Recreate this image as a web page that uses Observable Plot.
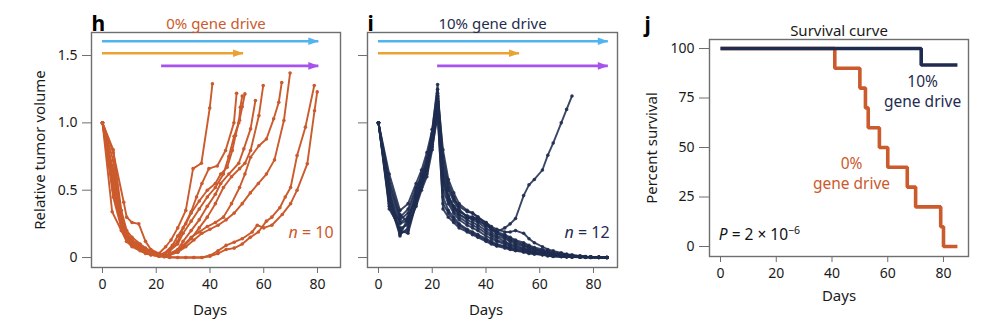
<!DOCTYPE html>
<html><head><meta charset="utf-8">
<script src="https://cdn.jsdelivr.net/npm/d3@7"></script>
<script src="https://cdn.jsdelivr.net/npm/@observablehq/plot@0.6"></script>
<style>
body{margin:0;background:#fff;}
#root{position:relative;width:1000px;height:335px;overflow:hidden;font-family:"Noto Sans",sans-serif;}
#root svg{position:absolute;top:0;}
</style></head><body><div id="root"></div>
<script>
const ORANGE = "#cb5a2c", NAVY = "#1f2c50";

// ---- Panel h: 0% gene drive (per-mouse days and relative tumor volume) ----
const hDays = [
  [0,4,7,9,11,14,16,18,21,23.5,25.5,28,31,33.7,36.8,39.9,40.9],
  [0,4,7,9,11,14,16,18,21,23,25,28,30,33,35,37,39.6,42.7,45.8,48.9,49.9],
  [0,4,7,9,11,14,16,18,21,23,26,28,31,33,36,39,42,44,46.4,48.3,49.5,50.7,51.3,52],
  [0,4,7,9,11,14,16,18,21,23,25,28,30,33,36,39,42,45,47,49,51,52,53],
  [0,4,7,9,11,14,16,18,21,23,25,28,30,33,36,39,42,44,47,50.7,52.6,55.1,56.9],
  [0,4,7.9,9,11,13.5,16,18,21,23,25,28,30,33,36,39,42,45,48,51,53,55.1,58.2,59.8],
  [0,4,7,9,11,14,16,18,21,23,25,28,30,33,36,39,42,45,48,51,53,55.1,58.2,61,63.7,65.6,66.7],
  [0,4,7,9,11,14,16,18,21,23,25,28,31,34,37,40,43,46,49,52,55,58,61,64,67.5,69.8],
  [0,3.6,7,9,11,14,16,18,21,23,25,28,31,34,37,40,43,46,49,52,55,58,61,63,66,68,70,72.4,75.5,78.8],
  [0,4,7,9,11,14,16,18,21,23,25,28,31,34,37,40,43,46,49,52,55.7,57.6,60,63,66.9,70,72.4,76.2,78.9,79.9]
];
const hVols = [
  [1.0,0.80,0.35,0.20,0.15,0.10,0.07,0.05,0.03,0.08,0.13,0.22,0.35,0.66,0.70,1.11,1.29],
  [1.0,0.72,0.30,0.18,0.12,0.07,0.05,0.04,0.02,0.03,0.06,0.12,0.22,0.34,0.45,0.55,0.66,0.68,0.795,1.0,1.22],
  [1.0,0.65,0.28,0.15,0.10,0.06,0.04,0.03,0.02,0.03,0.09,0.16,0.25,0.33,0.42,0.50,0.55,0.62,0.67,0.795,0.906,1.0,1.116,1.20],
  [1.0,0.55,0.25,0.16,0.12,0.08,0.05,0.03,0.01,0.02,0.05,0.10,0.18,0.27,0.36,0.45,0.52,0.62,0.75,0.90,1.02,1.12,1.215],
  [1.0,0.45,0.22,0.12,0.09,0.06,0.04,0.02,0.01,0.01,0.03,0.06,0.12,0.20,0.28,0.38,0.47,0.55,0.62,0.70,0.807,0.955,1.166],
  [1.0,0.78,0.41,0.30,0.26,0.25,0.12,0.06,0.03,0.02,0.02,0.04,0.08,0.14,0.22,0.30,0.40,0.52,0.60,0.66,0.70,0.795,1.054,1.277],
  [1.0,0.60,0.30,0.17,0.13,0.09,0.06,0.04,0.02,0.01,0.02,0.05,0.09,0.15,0.19,0.23,0.26,0.30,0.40,0.52,0.62,0.745,0.83,0.88,1.03,1.153,1.30],
  [1.0,0.50,0.24,0.14,0.10,0.07,0.05,0.03,0.02,0.01,0.02,0.04,0.08,0.13,0.18,0.21,0.24,0.28,0.33,0.40,0.48,0.55,0.62,0.725,1.017,1.37],
  [1.0,0.34,0.20,0.12,0.08,0.05,0.03,0.02,0.01,0.005,0,0,0,0,0,0.01,0.03,0.06,0.07,0.10,0.15,0.19,0.27,0.30,0.37,0.45,0.52,0.757,0.968,1.277],
  [1.0,0.50,0.28,0.18,0.12,0.08,0.05,0.04,0.02,0.01,0.005,0,0,0,0,0.015,0.05,0.09,0.114,0.14,0.19,0.24,0.22,0.24,0.32,0.40,0.50,0.696,1.09,1.23]
];

// ---- Panel i: 10% gene drive (shared measurement days) ----
const iDays = [0,4,8,11,14,16,18,20,22,24,26,28,30,33,35,37,40,42,44,47,49,51,54,56,58,61,63,65,68,70,72,75,77,79,82,85];
const iVols = [
  [1.0,0.42,0.16,0.30,0.45,0.55,0.70,0.95,1.285,0.60,0.45,0.38,0.32,0.28,0.26,0.24,0.20,0.17,0.15,0.12,0.10,0.09,0.07,0.06,0.05,0.04,0.03,0.025,0.02,0.015,0.01,0.008,0.005,0.003,0.002,0.0],
  [1.0,0.38,0.20,0.18,0.40,0.52,0.62,0.85,1.20,0.50,0.40,0.33,0.28,0.24,0.22,0.20,0.16,0.14,0.12,0.10,0.08,0.07,0.06,0.05,0.04,0.03,0.02,0.015,0.01,0.008,0.006,0.004,0.003,0.002,0.001,0.0],
  [1.0,0.55,0.30,0.36,0.52,0.60,0.72,0.90,1.15,0.70,0.52,0.44,0.38,0.34,0.33,0.30,0.26,0.22,0.19,0.17,0.15,0.13,0.11,0.09,0.075,0.06,0.05,0.04,0.03,0.02,0.015,0.01,0.006,0.004,0.002,0.0],
  [1.0,0.48,0.25,0.28,0.46,0.58,0.68,0.88,1.22,0.62,0.46,0.38,0.34,0.31,0.30,0.29,0.26,0.23,0.21,0.19,0.19,0.20,0.18,0.14,0.11,0.08,0.06,0.05,0.035,0.025,0.02,0.012,0.008,0.005,0.003,0.0],
  [1.0,0.36,0.22,0.24,0.38,0.50,0.60,0.80,1.10,0.45,0.35,0.30,0.25,0.21,0.19,0.17,0.14,0.12,0.10,0.085,0.07,0.06,0.05,0.04,0.03,0.025,0.02,0.012,0.008,0.006,0.004,0.003,0.002,0.001,0.0,0.0],
  [1.0,0.62,0.35,0.40,0.55,0.65,0.78,0.95,1.25,0.75,0.55,0.45,0.36,0.30,0.28,0.26,0.22,0.19,0.16,0.14,0.12,0.10,0.085,0.07,0.06,0.045,0.035,0.025,0.02,0.015,0.01,0.008,0.005,0.003,0.002,0.0],
  [1.0,0.45,0.18,0.20,0.42,0.56,0.66,0.82,1.05,0.40,0.33,0.28,0.24,0.20,0.18,0.16,0.13,0.11,0.09,0.08,0.065,0.055,0.045,0.035,0.03,0.02,0.015,0.01,0.008,0.005,0.004,0.003,0.002,0.001,0.0,0.0],
  [1.0,0.52,0.28,0.33,0.50,0.62,0.74,0.92,1.18,0.66,0.50,0.42,0.35,0.30,0.29,0.28,0.24,0.21,0.18,0.16,0.14,0.12,0.10,0.08,0.065,0.05,0.04,0.03,0.025,0.018,0.012,0.008,0.005,0.003,0.002,0.0],
  [1.0,0.40,0.26,0.30,0.44,0.54,0.64,0.86,1.12,0.55,0.42,0.35,0.30,0.26,0.24,0.22,0.18,0.16,0.13,0.11,0.09,0.08,0.065,0.05,0.04,0.032,0.025,0.018,0.012,0.008,0.006,0.004,0.003,0.002,0.001,0.0],
  [1.0,0.58,0.32,0.26,0.48,0.60,0.70,0.90,1.20,0.80,0.58,0.48,0.40,0.35,0.33,0.30,0.25,0.21,0.18,0.15,0.13,0.11,0.09,0.075,0.06,0.05,0.04,0.03,0.02,0.015,0.01,0.007,0.004,0.002,0.001,0.0],
  [1.0,0.50,0.17,0.22,0.40,0.52,0.66,0.84,1.08,0.36,0.30,0.26,0.22,0.19,0.17,0.15,0.12,0.10,0.085,0.07,0.06,0.05,0.04,0.03,0.025,0.02,0.012,0.008,0.006,0.004,0.003,0.002,0.001,0.0,0.0,0.0],
  [1.0,0.44,0.20,0.26,0.44,0.56,0.68,0.88,1.16,0.58,0.44,0.37,0.32,0.29,0.30,0.27,0.24,0.22,0.19,0.22,0.25,0.29,0.46,0.54,0.58,0.65,0.76,0.85,1.00,1.10,1.20]
];

// ---- Treatment arrows (blue, orange, purple) ----
const arrowColors = ["#4fb4f0", "#eba232", "#a752ef"];
const arrowY = [1.606, 1.517, 1.423];
const arrowStart = [0, 0, 22];
const hArrowEnd = [80.5, 52.5, 80.5];
const iArrowEnd = [85.5, 52.5, 85.5];

// ---- Panel j: survival ----
const survGroups = ["0% gene drive", "10% gene drive"];
const surv0Days = [0, 41, 50, 52, 53, 57, 60, 67, 70, 79, 80, 85];
const surv0Pct  = [100, 90, 80, 70, 60, 50, 40, 30, 20, 10, 0, 0];
const surv10Days = [0, 72, 85];
const surv10Pct  = [100, 91.67, 91.67];

// ---- Axes ----
const volTicks = [0, 0.5, 1, 1.5];
const volTickLabels = ["0", "0.5", "1.0", "1.5"];
const dayTicks = [0, 20, 40, 60, 80];
const survTicks = [0, 25, 50, 75, 100];

// ---------- build tables ----------
const hRows = hDays.flatMap((ds, k) => ds.map((d, j) => ({id: k, day: d, vol: hVols[k][j]})));
const iRows = iVols.flatMap((vs, k) => vs.map((v, j) => ({id: k, day: iDays[j], vol: v})));
const mkArrows = ends => arrowColors.map((c, k) => ({color: c, y: arrowY[k], x1: arrowStart[k], x2: ends[k]}));
const survRows = [
  ...surv0Days.map((d, j) => ({g: survGroups[0], day: d, pct: surv0Pct[j], color: ORANGE})),
  ...surv10Days.map((d, j) => ({g: survGroups[1], day: d, pct: surv10Pct[j], color: NAVY}))
];

const headShape = {draw(ctx, l, r) { ctx.moveTo(0, 0); ctx.lineTo(-3.8, 10.5); ctx.lineTo(3.8, 10.5); ctx.closePath(); }};
const FRAME = "#6e6e6e";
const baseStyle = {fontFamily: "Noto Sans, sans-serif", fontSize: "14px", color: "#1a1a1a", background: "transparent", overflow: "visible"};

function arrowMarks(arr) {
  return [
    Plot.ruleY(arr, {y: "y", x1: "x1", x2: "x2", stroke: "color", strokeWidth: 2.6}),
    Plot.vector(arr, {x: "x2", y: "y", rotate: 90, length: 10, anchor: "start", shape: headShape, fill: "color", stroke: "none"})
  ];
}

function volumePanel(o) {
  return Plot.plot({
    width: o.width, height: 335,
    marginLeft: o.ml, marginRight: o.mr, marginTop: 32, marginBottom: 68,
    x: {domain: [-4.09, o.xmax]},
    y: {domain: [-0.074, 1.671]},
    color: {type: "identity"},
    style: baseStyle,
    marks: [
      Plot.frame({stroke: FRAME, strokeWidth: 1.4}),
      Plot.axisY({ticks: volTicks, tickFormat: o.labels ? (d => volTickLabels[volTicks.indexOf(d)]) : (() => ""), tickSize: 9, tickPadding: 5, stroke: FRAME, label: null}),
      Plot.axisX({ticks: dayTicks, tickSize: 6, tickPadding: 6, stroke: FRAME, label: null}),
      ...arrowMarks(o.arrows),
      Plot.line(o.rows, {x: "day", y: "vol", z: "id", stroke: o.color, strokeWidth: 1.9, strokeOpacity: o.op}),
      Plot.dot(o.rows, {x: "day", y: "vol", r: 1.8, fill: o.color, stroke: "none", fillOpacity: o.op}),
      Plot.text([o.title], {text: d => d, frameAnchor: "top", dy: -14, fill: o.color, fontSize: 15}),
      Plot.text([o.letter], {text: d => d, frameAnchor: "top-left", textAnchor: "start", dy: -16, dx: o.ldx, fontWeight: "bold", fontSize: 21, fill: "#000"}),
      Plot.text([{x: 40}], {x: "x", frameAnchor: "bottom", dy: 47, text: () => "Days", fontSize: 15}),
      Plot.text([{x: 86, y: 0.186}], {x: "x", y: "y", text: () => o.n, textAnchor: "end", fill: o.color, fontSize: 16}),
      ...(o.labels ? [Plot.text(["Relative tumor volume"], {text: d => d, frameAnchor: "left", textAnchor: "middle", rotate: -90, dx: -51, fontSize: 15})] : [])
    ]
  });
}

function richify(svg, content, parts) {
  d3.select(svg).selectAll("text").filter(function() { return this.textContent === content; }).each(function() {
    const t = d3.select(this);
    t.text(null);
    parts.forEach(p => {
      const ts = t.append("tspan").text(p.text);
      if (p.italic) ts.attr("font-style", "italic");
      if (p.sup) ts.attr("font-size", "0.68em").attr("dy", "-0.55em");
    });
  });
}

const root = document.getElementById("root");

const ph = volumePanel({width: 345, ml: 91, mr: 5, xmax: 88.56, rows: hRows, color: ORANGE, op: 1,
  arrows: mkArrows(hArrowEnd), title: "0% gene drive", letter: "h", ldx: 0, n: "n = 10", labels: true});
richify(ph, "n = 10", [{text: "n", italic: true}, {text: " = 10"}]);
ph.style.left = "0px";
root.appendChild(ph);

const pi = volumePanel({width: 280, ml: 22, mr: 8, xmax: 88.93, rows: iRows, color: NAVY, op: 0.88,
  arrows: mkArrows(iArrowEnd), title: "10% gene drive", letter: "i", ldx: 0, n: "n = 12", labels: false});
richify(pi, "n = 12", [{text: "n", italic: true}, {text: " = 12"}]);
pi.style.left = "345px";
root.appendChild(pi);

const pj = Plot.plot({
  width: 375, height: 335,
  marginLeft: 84, marginRight: 32, marginTop: 39, marginBottom: 79,
  x: {domain: [-3.95, 88.97]},
  y: {domain: [-5.05, 104.55]},
  color: {type: "identity"},
  style: baseStyle,
  marks: [
    Plot.frame({stroke: FRAME, strokeWidth: 1.4}),
    Plot.axisY({ticks: survTicks, tickSize: 10, tickPadding: 5, stroke: FRAME, label: null}),
    Plot.axisX({ticks: dayTicks, tickSize: 6, tickPadding: 6, stroke: FRAME, label: null}),
    Plot.line(survRows, {x: "day", y: "pct", z: "g", stroke: "color", strokeWidth: 3.6, curve: "step-after", strokeLinejoin: "miter", strokeLinecap: "butt"}),
    Plot.text(["Survival curve"], {text: d => d, frameAnchor: "top", dy: -14, fontSize: 15}),
    Plot.text(["j"], {text: d => d, frameAnchor: "top-left", textAnchor: "start", dx: -65, dy: -22, fontWeight: "bold", fontSize: 21, fill: "#000"}),
    Plot.text(["Percent survival"], {text: d => d, frameAnchor: "left", textAnchor: "middle", rotate: -90, dx: -57, fontSize: 15}),
    Plot.text(["Days"], {text: d => d, frameAnchor: "bottom", dy: 44, fontSize: 15}),
    Plot.text([{x: 72.5, y: 78.8}], {x: "x", y: "y", text: () => "10%\ngene drive", fill: NAVY, fontSize: 15.5, lineHeight: 1.3}),
    Plot.text([{x: 47, y: 37.2}], {x: "x", y: "y", text: () => "0%\ngene drive", fill: ORANGE, fontSize: 15.5, lineHeight: 1.3}),
    Plot.text([{x: -0.6, y: 6}], {x: "x", y: "y", text: () => "P = 2 × 10−6", textAnchor: "start", fontSize: 15.5, fill: "#111"})
  ]
});
richify(pj, "P = 2 × 10−6", [{text: "P", italic: true}, {text: " = 2 × 10"}, {text: "−6", sup: true}]);
pj.style.left = "625px";
root.appendChild(pj);
</script>
</body></html>
